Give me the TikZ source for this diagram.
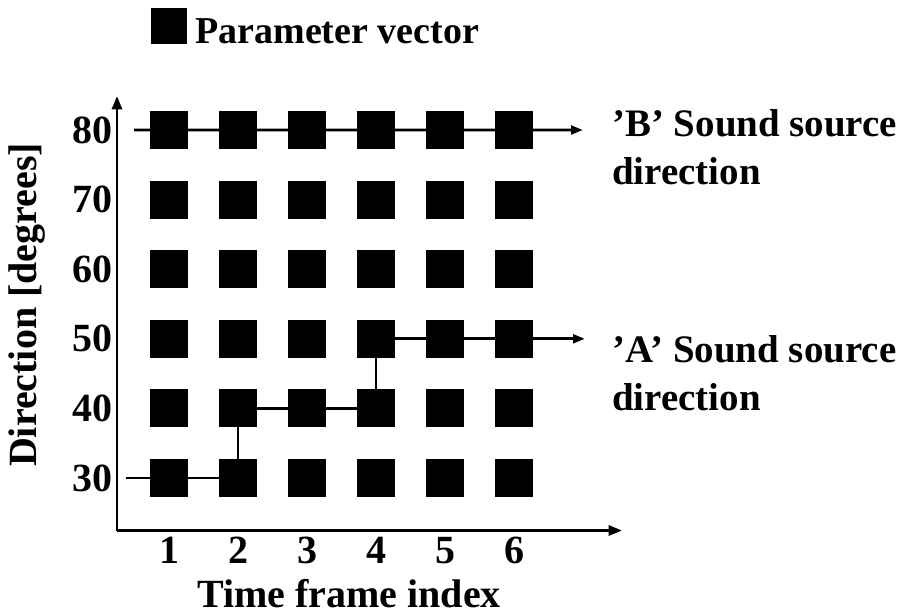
\documentclass[tikz,border=0pt]{standalone}
\usepackage{fontspec}
\setmainfont{Liberation Serif}
\usetikzlibrary{arrows.meta}
\begin{document}
\begin{tikzpicture}[x=0.75pt,y=-0.75pt,
  every node/.style={inner sep=0pt},
  txt/.style={font=\bfseries\fontsize{30}{36}\selectfont},
  rtxt/.style={font=\bfseries\fontsize{29.2}{36}\selectfont},
  legtxt/.style={font=\bfseries\fontsize{28.5}{36}\selectfont},
  sq/.style={fill=black,draw=none,minimum size=28.5pt},
  ln/.style={line width=2.2pt},
  axis/.style={line width=2.2pt,-{Triangle[length=10pt,width=7.5pt]}},
  track/.style={line width=2.2pt,-{Triangle[length=9pt,width=6.5pt]}}]
\useasboundingbox (0,0) rectangle (906,615);
% legend
\node[sq,minimum size=27pt] (leg) at (168.5,26) {};
\node[legtxt,anchor=base west] (legt) at (195,43) {Parameter vector};
% axes
\coordinate (o) at (117,530.5);
\coordinate (ytop) at (117,96);
\coordinate (xend) at (622,530.5);
\draw[axis] (o) -- (ytop);
\draw[axis] (o) -- (xend);
% squares
\foreach \i in {1,...,6}{
  \foreach \j in {1,...,6}{
    \node[sq] (s-\i-\j) at ({169+(\i-1)*69},{478-(\j-1)*69.6}) {};
  }
}
% y tick labels
\foreach \j/\v in {1/30,2/40,3/50,4/60,5/70,6/80}{
  \node[txt,anchor=east] (yl\j) at (113,{478-(\j-1)*69.6}) {\v};
}
% x tick labels
\foreach \i in {1,...,6}{
  \node[txt] (xl\i) at ({169+(\i-1)*69},550.5) {\i};
}
\node[txt] (xlab) at (349,594) {Time frame index};
\node[txt,rotate=90] (ylab) at (27,305) {Direction [degrees]};
% B track
\coordinate (b0) at (134,130);
\coordinate (bend) at (583,130);
\draw[track] (b0) -- (s-1-6.center) -- (s-6-6.center) -- (bend);
% A track
\coordinate (a0) at (126,478);
\coordinate (aend) at (585,338.8);
\draw[ln] (a0) -- (s-2-1.center) -- (s-2-2.center) -- (s-4-2.center) -- (s-4-3.center) -- (s-6-3.center);
\draw[track] (s-6-3.center) -- (aend);
% labels
\node[rtxt,anchor=west,align=left] (bl) at (612,147.5) {’B’ Sound source\\direction};
\node[rtxt,anchor=west,align=left] (al) at (612,373) {’A’ Sound source\\direction};
\end{tikzpicture}
\end{document}
